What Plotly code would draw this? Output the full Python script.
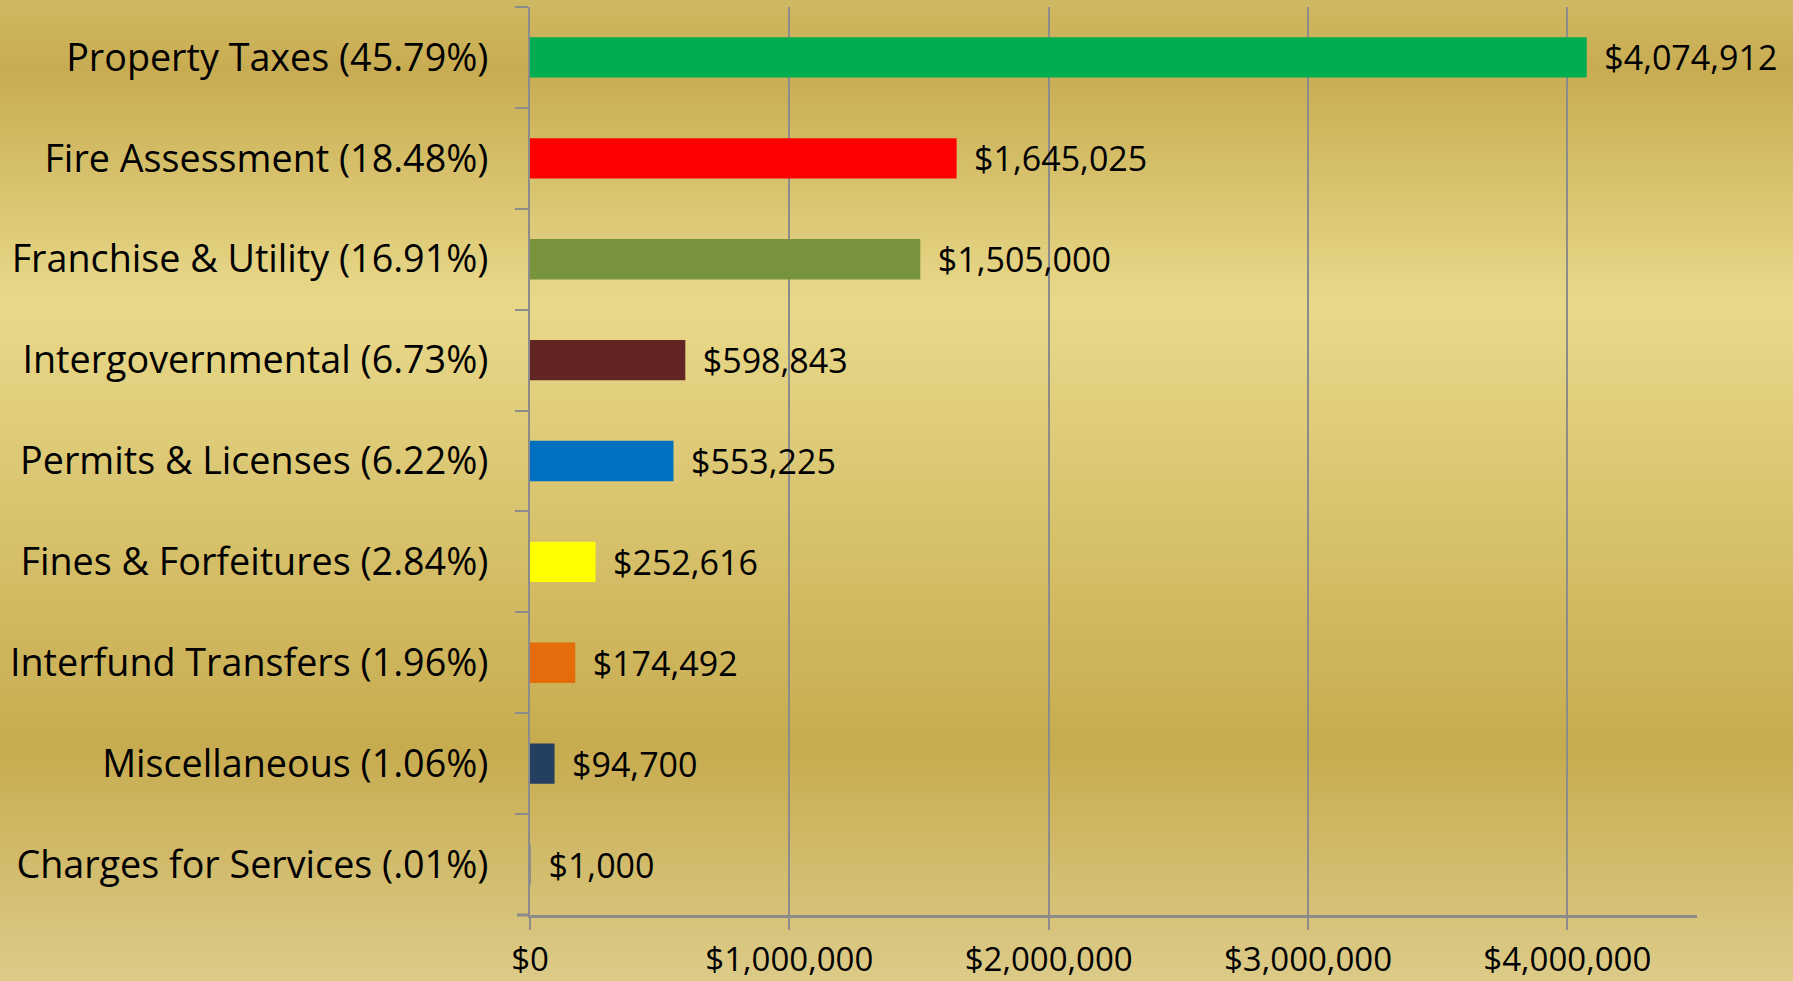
import base64, struct, zlib
import plotly.graph_objects as go

# ---- data ----
categories = [
    "Property Taxes (45.79%)",
    "Fire Assessment (18.48%)",
    "Franchise & Utility (16.91%)",
    "Intergovernmental (6.73%)",
    "Permits & Licenses (6.22%)",
    "Fines & Forfeitures (2.84%)",
    "Interfund Transfers (1.96%)",
    "Miscellaneous (1.06%)",
    "Charges for Services (.01%)",
]
values = [4074912, 1645025, 1505000, 598843, 553225, 252616, 174492, 94700, 1000]
bar_colors = ["#00AD50", "#FF0000", "#77933C", "#632523", "#0070C0",
              "#FFFF00", "#E46C0A", "#243F60", "#8C8C8C"]
x_tick_vals = [0, 1000000, 2000000, 3000000, 4000000]

# ---- layout geometry ----
W, H = 1793, 981
L, R, T, B = 530, 96, 7, 66
PW, PH = W - L - R, H - T - B

# ---- background gradient (vertical) as a PNG ----
stops = [(0.0, (207, 184, 98)), (0.07, (200, 172, 82)), (0.31, (232, 217, 138)),
         (0.76, (199, 171, 79)), (1.0, (220, 203, 136))]

def color_at(f):
    for (f0, c0), (f1, c1) in zip(stops[:-1], stops[1:]):
        if f0 <= f <= f1:
            t = (f - f0) / (f1 - f0) if f1 > f0 else 0
            return tuple(int(round(a + (b - a) * t)) for a, b in zip(c0, c1))
    return stops[-1][1]

def make_png(rows):
    raw = b"".join(b"\x00" + bytes(c) * 2 for c in rows)
    def chunk(tag, data):
        return struct.pack(">I", len(data)) + tag + data + struct.pack(">I", zlib.crc32(tag + data) & 0xffffffff)
    ihdr = struct.pack(">IIBBBBB", 2, len(rows), 8, 2, 0, 0, 0)
    return b"\x89PNG\r\n\x1a\n" + chunk(b"IHDR", ihdr) + chunk(b"IDAT", zlib.compress(raw)) + chunk(b"IEND", b"")

rows = [color_at(i / (H - 1)) for i in range(H)]
bg_src = "data:image/png;base64," + base64.b64encode(make_png(rows)).decode()

FONT = "Open Sans"
GRAY = "#8C8C8C"

fig = go.Figure()
fig.add_trace(go.Bar(
    y=categories, x=values, orientation="h",
    marker=dict(color=bar_colors, line=dict(width=0)),
    text=["\u00a0\u2009${:,}".format(v) for v in values],
    textposition="outside", cliponaxis=False, constraintext="none",
    textfont=dict(family=FONT, size=34, color="black"),
    width=0.4,
))

fig.update_layout(
    width=W, height=H,
    margin=dict(l=L, r=R, t=T, b=B, pad=0, autoexpand=False),
    paper_bgcolor="#D8C27A", plot_bgcolor="rgba(0,0,0,0)",
    showlegend=False,
    font=dict(family=FONT, size=37.7, color="black"),
    images=[dict(source=bg_src, xref="paper", yref="paper",
                 x=-L / PW, y=1 + T / PH, sizex=W / PW, sizey=H / PH,
                 xanchor="left", yanchor="top", sizing="stretch", layer="below")],
    shapes=[dict(type="line", xref="paper", yref="paper",
                 x0=-13 / PW, x1=0, y0=0, y1=0, line=dict(color=GRAY, width=3))],
)
fig.update_xaxes(
    range=[0, 4500000], tickvals=x_tick_vals, tickformat="$,.0f",
    showgrid=True, gridcolor=GRAY, gridwidth=1.5, zeroline=False,
    showline=True, linecolor=GRAY, linewidth=3, automargin=False,
    ticks="outside", ticklen=12, tickcolor=GRAY, tickwidth=1.5,
    tickfont=dict(family=FONT, size=33), ticklabelstandoff=1,
)
fig.update_yaxes(
    categoryorder="array", categoryarray=categories, autorange="reversed",
    showline=True, linecolor=GRAY, linewidth=2, automargin=False,
    ticks="outside", tickson="boundaries", ticklen=13, tickcolor=GRAY, tickwidth=2,
    showgrid=False, tickfont=dict(family=FONT, size=37.7), ticklabelstandoff=32,
)

fig.write_html("out.html", config={"displayModeBar": False},
               post_script="document.body.style.margin='0';document.body.style.overflow='hidden';")
